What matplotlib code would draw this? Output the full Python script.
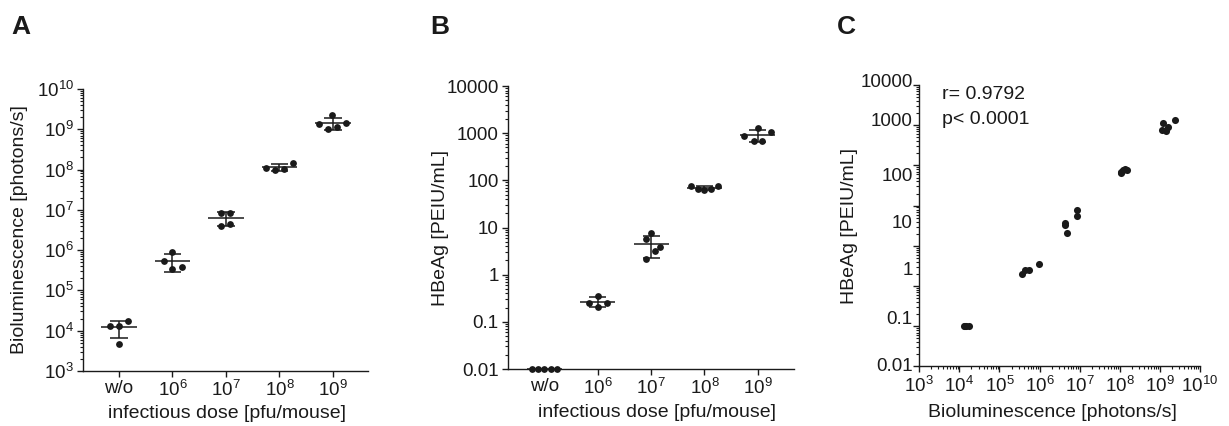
import numpy as np
import matplotlib
matplotlib.use('Agg')
import matplotlib.pyplot as plt
from matplotlib.ticker import LogLocator, NullFormatter
import matplotlib.transforms as mtransforms

plt.rcParams['font.family'] = ['Liberation Sans', 'DejaVu Sans']
plt.rcParams['mathtext.fontset'] = 'custom'
plt.rcParams['mathtext.rm'] = 'Liberation Sans'
plt.rcParams['mathtext.it'] = 'Liberation Sans:italic'
plt.rcParams['mathtext.bf'] = 'Liberation Sans:bold'

INK = '#1a1a1a'

# x groups for panels A and B
dose_labels = ['w/o', '10$^{6}$', '10$^{7}$', '10$^{8}$', '10$^{9}$']

# A: bioluminescence per mouse [photons/s]
biolum_wo = [1.33e4, 1.33e4, 1.71e4, 4.6e3]
biolum_e6 = [5.4e5, 8.8e5, 3.4e5, 3.9e5]
biolum_e7 = [8.5e6, 8.2e6, 4.0e6, 4.5e6]
biolum_e8 = [1.11e8, 9.7e7, 1.03e8, 1.43e8]
biolum_e9 = [1.35e9, 1.01e9, 2.25e9, 1.11e9, 1.45e9]

# B: HBeAg per mouse [PEIU/mL]
hbeag_wo = [0.01, 0.01, 0.01, 0.01, 0.01]
hbeag_e6 = [0.254, 0.357, 0.203, 0.254]
hbeag_e7 = [5.6, 7.5, 3.8, 3.2, 2.1]
hbeag_e8 = [76, 66, 61, 66, 76]
hbeag_e9 = [860, 1300, 690, 690, 1040]

# C: paired values per mouse
corr_biolum = [1.3e4, 1.4e4, 1.5e4, 1.75e4,
               3.7e5, 4.3e5, 5.5e5, 9.5e5,
               4.3e6, 4.4e6, 4.8e6, 8.6e6, 8.4e6,
               1.05e8, 1.1e8, 1.18e8, 1.35e8, 1.55e8,
               1.1e9, 1.2e9, 1.4e9, 1.55e9, 2.4e9]
corr_hbeag = [0.01, 0.01, 0.01, 0.01,
              0.20, 0.25, 0.25, 0.36,
              3.3, 3.8, 2.1, 7.8, 5.5,
              64, 70, 78, 80, 76,
              760, 1120, 735, 920, 1350]
corr_r = 0.9792
corr_p = '< 0.0001'

a_groups = [biolum_wo, biolum_e6, biolum_e7, biolum_e8, biolum_e9]
b_groups = [hbeag_wo, hbeag_e6, hbeag_e7, hbeag_e8, hbeag_e9]

# horizontal scatter of dots inside a group (category units)
a_jitter = [[-0.17, 0, 0.17, 0], [-0.16, 0, 0, 0.17], [-0.09, 0.08, -0.09, 0.08],
            [-0.25, -0.09, 0.08, 0.25], [-0.26, -0.10, -0.01, 0.07, 0.24]]
b_jitter = [[-0.24, -0.12, 0, 0.12, 0.24], [-0.16, 0, 0, 0.17], [-0.10, 0, 0.16, 0.08, -0.10],
            [-0.25, -0.125, 0, 0.125, 0.25], [-0.25, 0, -0.08, 0.08, 0.25]]


def style_axes(ax):
    for s in ['top', 'right']:
        ax.spines[s].set_visible(False)
    for s in ['left', 'bottom']:
        ax.spines[s].set_linewidth(1.0)
        ax.spines[s].set_color(INK)
    ax.tick_params(which='major', direction='out', length=4.5, width=1.0,
                   color=INK, labelcolor=INK, labelsize=13.5, pad=2)
    ax.tick_params(which='minor', direction='out', length=2.2, width=0.8, color=INK)


def log_minor(axis):
    axis.set_minor_locator(LogLocator(base=10, subs=np.arange(2, 10), numticks=30))
    axis.set_minor_formatter(NullFormatter())


def dot_plot(ax, groups, jitter):
    for i, vals in enumerate(groups):
        vals = np.array(vals)
        xs = i + np.array(jitter[i])
        ax.scatter(xs, vals, s=24, color=INK, zorder=3, clip_on=False, linewidths=0)
        m = vals.mean()
        sd = vals.std(ddof=1)
        ax.hlines(m, i - 0.33, i + 0.33, color=INK, lw=1.1, zorder=4)
        if sd > 0:
            ax.vlines(i, m - sd, m + sd, color=INK, lw=1.1, zorder=4)
            ax.hlines([m - sd, m + sd], i - 0.16, i + 0.16, color=INK, lw=1.1, zorder=4)


fig = plt.figure(figsize=(12.29, 4.26), dpi=100)

# ---- A ----
axA = fig.add_axes([0.0675, 0.1291, 0.2319, 0.662])
style_axes(axA)
axA.set_yscale('log')
axA.set_ylim(1e3, 1e10)
axA.set_xlim(-0.673, 4.654)
dot_plot(axA, a_groups, a_jitter)
exps = range(3, 11)
axA.set_yticks([10.0 ** e for e in exps], ['10$^{%d}$' % e for e in exps])
log_minor(axA.yaxis)
axA.set_xticks(range(len(dose_labels)), dose_labels)
axA.set_ylabel('Bioluminescence [photons/s]', fontsize=14, color=INK, va='center')
axA.yaxis.set_label_coords(-0.221, 0.5)
axA.set_xlabel('infectious dose [pfu/mouse]', fontsize=14, color=INK, va='center')
axA.xaxis.set_label_coords(0.505, -0.152)

# ---- B ----
axB = fig.add_axes([0.4131, 0.1338, 0.233, 0.6643])
style_axes(axB)
axB.set_yscale('log')
axB.set_ylim(0.01, 10000)
axB.set_xlim(-0.69, 4.68)
dot_plot(axB, b_groups, b_jitter)
b_ticks = [0.01, 0.1, 1, 10, 100, 1000, 10000]
axB.set_yticks(b_ticks, ['0.01', '0.1', '1', '10', '100', '1000', '10000'])
log_minor(axB.yaxis)
axB.set_xticks(range(len(dose_labels)), dose_labels)
axB.xaxis.get_major_ticks()[0].tick1line.set_visible(False)
axB.set_ylabel('HBeAg [PEIU/mL]', fontsize=14, color=INK, va='center')
axB.yaxis.set_label_coords(-0.236, 0.5)
axB.set_xlabel('infectious dose [pfu/mouse]', fontsize=14, color=INK, va='center')
axB.xaxis.set_label_coords(0.52, -0.152)

# ---- C ----
axC = fig.add_axes([0.748, 0.1397, 0.2284, 0.6608])
style_axes(axC)
axC.set_xscale('log')
axC.set_yscale('log')
axC.set_xlim(1e3, 1e10)
axC.set_ylim(1e-3, 1e4)
axC.scatter(corr_biolum, corr_hbeag, s=26, color=INK, zorder=3, clip_on=False, linewidths=0)
axC.set_xticks([10.0 ** e for e in exps], ['10$^{%d}$' % e for e in exps])
log_minor(axC.xaxis)
axC.set_yticks([10.0 ** e for e in range(-3, 5)])
axC.set_yticklabels([])
log_minor(axC.yaxis)
# y labels sit where they are printed in the original figure
c_ylabels = ['10000', '1000', '100', '10', '1', '0.1', '0.01']
c_ylabel_pos = [4.06, 3.09, 1.72, 0.545, -0.617, -1.826, -3.0]
trans = mtransforms.blended_transform_factory(axC.transAxes, axC.transData)
for lab, pos in zip(c_ylabels, c_ylabel_pos):
    axC.text(-0.024, 10 ** pos, lab, transform=trans, ha='right', va='center',
             fontsize=13.5, color=INK)
axC.text(0.08, 0.9645, 'r= %.4f' % corr_r, transform=axC.transAxes,
         ha='left', va='center', fontsize=14, color=INK)
axC.text(0.08, 0.876, 'p' + corr_p, transform=axC.transAxes,
         ha='left', va='center', fontsize=14, color=INK)
axC.set_ylabel('HBeAg [PEIU/mL]', fontsize=14, color=INK, va='center')
axC.yaxis.set_label_coords(-0.25, 0.5)
axC.set_xlabel('Bioluminescence [photons/s]', fontsize=14, color=INK, va='center')
axC.xaxis.set_label_coords(0.476, -0.165)

# panel letters
for x, letter in [(0.0095, 'A'), (0.35, 'B'), (0.681, 'C')]:
    fig.text(x, 0.9195, letter, fontsize=19, fontweight='bold', color=INK, va='baseline')

fig.savefig('out.png', dpi=100)
